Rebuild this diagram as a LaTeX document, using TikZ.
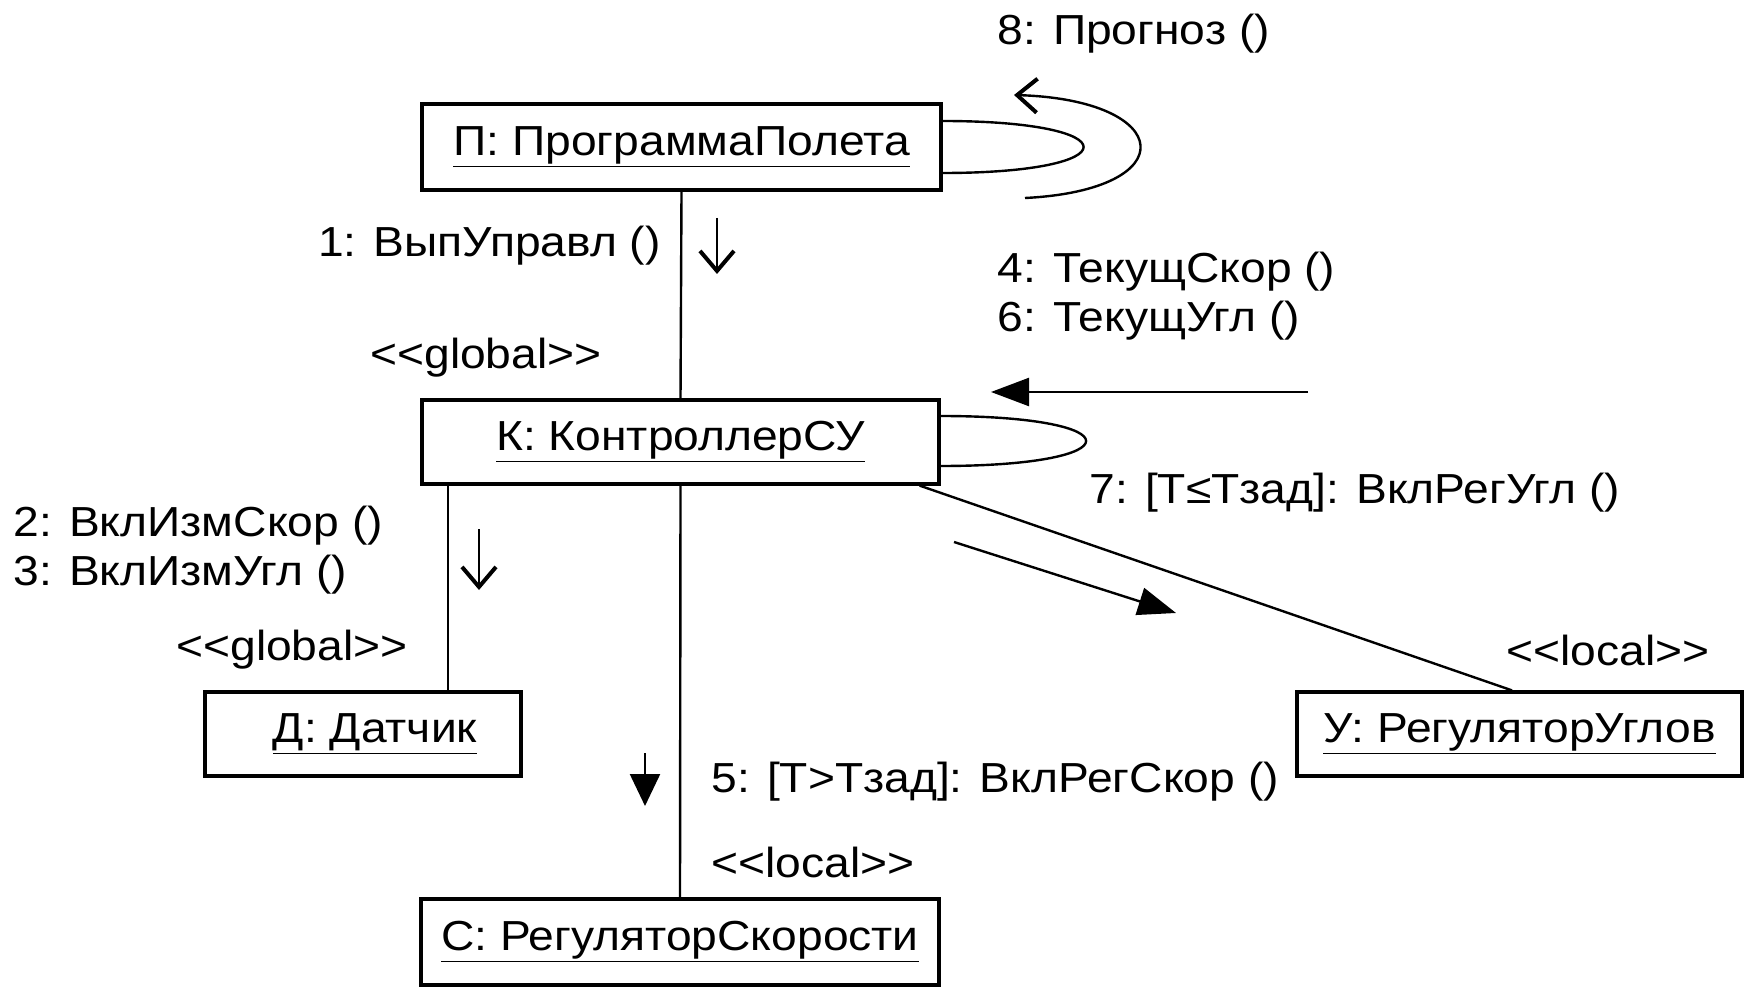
\documentclass[tikz,border=0pt]{standalone}
\usepackage{fontspec}
\setmainfont[FakeStretch=1.1]{Liberation Sans}
\usetikzlibrary{arrows.meta}
\begin{document}
\begin{tikzpicture}[x=0.5pt,y=-0.5pt,
  obj/.style={draw, line width=1.6pt, inner sep=0pt, font=\fontsize{21}{25}\selectfont},
  lbl/.style={inner sep=0pt, font=\fontsize{21}{25}\selectfont},
  conn/.style={line width=1.2pt},
  openarr/.style={line width=1.2pt, -{Straight Barb[length=10pt,width=17pt,line width=2pt]}},
  fillarr/.style={line width=1.2pt, -{Triangle[length=19pt,width=14pt]}},
  fillarrb/.style={line width=1.2pt, -{Triangle[length=16pt,width=15pt]}}]
\useasboundingbox (0,0) rectangle (1756,989);
% objects
\node[obj, minimum width=259.5pt, minimum height=43pt] (P) at (681.5,147) {\underline{П: ПрограммаПолета}};
\node[obj, minimum width=258.5pt, minimum height=42pt] (K) at (680.5,442) {\underline{К: КонтроллерСУ}};
\node[obj, minimum width=158pt, minimum height=42pt] (D) at (363,734) {\hspace{12pt}\underline{Д: Датчик}};
\node[obj, minimum width=259pt, minimum height=43pt] (S) at (680,942) {\underline{С: РегуляторСкорости}};
\node[obj, minimum width=222.5pt, minimum height=42pt] (U) at (1519.5,734) {\underline{У: РегуляторУглов}};
% links
\coordinate (dx) at (448,0);
\draw[conn] (P.south) -- (K.north);
\draw[conn] (K.south -| dx) -- (D.north -| dx);
\draw[conn] (K.south) -- (S.north);
\draw[conn] ([xshift=-10.5pt]K.south east) -- ([xshift=-3.75pt]U.north);
\draw[conn] ([yshift=13pt]P.east) .. controls +(94pt,0) and +(94pt,0) .. ([yshift=-13pt]P.east);
\draw[conn] ([yshift=13pt]K.east) .. controls +(97pt,0) and +(97pt,0) .. ([yshift=-12pt]K.east);
% message arrows
\coordinate (a8s) at (1025,198);
\coordinate (a8e) at (1014,95);
\draw[openarr] (a8s) .. controls (1185,190) and (1175,100) .. (a8e);
\coordinate (a1s) at (717,218);
\coordinate (a1e) at (717,274);
\draw[openarr] (a1s) -- (a1e);
\coordinate (a2s) at (479,529);
\coordinate (a2e) at (479,590);
\draw[openarr] (a2s) -- (a2e);
\coordinate (a4s) at (1308,392);
\coordinate (a4e) at (991,392);
\draw[fillarr] (a4s) -- (a4e);
\coordinate (a7s) at (954,542);
\coordinate (a7e) at (1176,613);
\draw[fillarr] (a7s) -- (a7e);
\coordinate (a5s) at (645,753);
\coordinate (a5e) at (645,806);
\draw[fillarrb] (a5s) -- (a5e);
% labels
\node[lbl, anchor=west] (l8) at (997,34) {8: Прогноз ()};
\node[lbl, anchor=east] (l1) at (661,246) {1: ВыпУправл ()};
\node[lbl, anchor=west] (gK) at (370,358) {<{}<global>{}>};
\node[lbl, anchor=west] (l4) at (997,272) {4: ТекущСкор ()};
\node[lbl, anchor=west] (l6) at (997,321) {6: ТекущУгл ()};
\node[lbl, anchor=west] (l7) at (1089,493) {7: [T≤Tзад]: ВклРегУгл ()};
\node[lbl, anchor=west] (l2) at (13,526) {2: ВклИзмСкор ()};
\node[lbl, anchor=west] (l3) at (13,575) {3: ВклИзмУгл ()};
\node[lbl, anchor=west] (gD) at (176,650) {<{}<global>{}>};
\node[lbl, anchor=west] (lU) at (1506,650) {<{}<local>{}>};
\node[lbl, anchor=west] (l5) at (711,782) {5: [T>Tзад]: ВклРегСкор ()};
\node[lbl, anchor=west] (lS) at (711,862) {<{}<local>{}>};
\end{tikzpicture}
\end{document}
